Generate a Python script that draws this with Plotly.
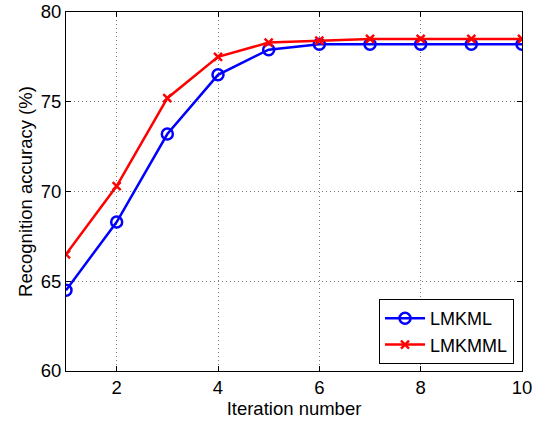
import plotly.graph_objects as go

iterations = [1, 2, 3, 4, 5, 6, 7, 8, 9, 10]
lmkml = [64.5, 68.3, 73.2, 76.5, 77.9, 78.2, 78.2, 78.2, 78.2, 78.2]
lmkmml = [66.5, 70.3, 75.2, 77.5, 78.3, 78.4, 78.5, 78.5, 78.5, 78.5]
x_ticks = [2, 4, 6, 8, 10]
y_ticks = [60, 65, 70, 75, 80]

FONT = "Liberation Sans, Arial, sans-serif"

fig = go.Figure()
fig.add_trace(go.Scatter(
    x=iterations, y=lmkml, name="LMKML", mode="lines+markers",
    line=dict(color="#0000ff", width=2.5),
    marker=dict(symbol="circle-open", size=11, color="#0000ff", line=dict(width=2.5)),
))
fig.add_trace(go.Scatter(
    x=iterations, y=lmkmml, name="LMKMML", mode="lines+markers",
    line=dict(color="#ff0000", width=2.5),
    marker=dict(symbol="x-thin", size=8, color="#ff0000", line=dict(width=2.5, color="#ff0000")),
))

axis_common = dict(
    showline=True, linecolor="black", linewidth=1, mirror="ticks",
    ticks="inside", ticklen=5, tickcolor="black",
    showgrid=True, gridcolor="#7a7a7a", griddash="1px,3px", gridwidth=1,
    zeroline=False, automargin=False,
    tickfont=dict(family=FONT, size=18.5, color="black"),
)

fig.update_xaxes(
    range=[1, 10], tickvals=x_ticks, ticktext=[str(v) for v in x_ticks],
    title=dict(text="Iteration number", font=dict(family=FONT, size=18.5, color="black"), standoff=1),
    **axis_common,
)
fig.update_yaxes(
    range=[60, 80], tickvals=y_ticks, ticktext=[str(v) for v in y_ticks],
    title=dict(text="Recognition accuracy (%)", font=dict(family=FONT, size=18.5, color="black"), standoff=3),
    **axis_common,
)

fig.update_layout(
    width=538, height=422,
    margin=dict(l=66, r=16, t=12, b=51),
    plot_bgcolor="white", paper_bgcolor="white",
    showlegend=True,
    legend=dict(
        x=0.9825, y=0.0195, xanchor="right", yanchor="bottom",
        bgcolor="white", bordercolor="black", borderwidth=1,
        font=dict(family=FONT, size=18, color="black"),
        tracegroupgap=0, itemwidth=40,
    ),
)

fig.write_html("out.html", config={"displayModeBar": False},
               post_script="document.body.style.margin='0';")
